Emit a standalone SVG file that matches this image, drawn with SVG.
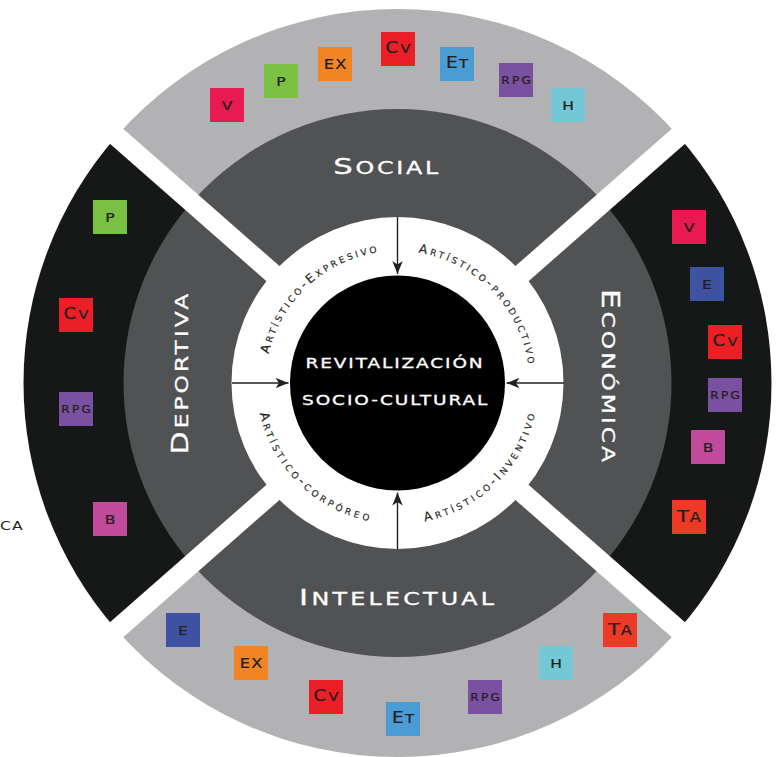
<svg xmlns="http://www.w3.org/2000/svg" xmlns:xlink="http://www.w3.org/1999/xlink" width="776" height="757" viewBox="0 0 776 757">
<defs>
<style>
.t{font-family:"DejaVu Sans","Liberation Sans",sans-serif}
.wt{fill:#fff;stroke:#fff;stroke-width:0.3}
.dk{fill:#231f20}
.ring{font-family:"DejaVu Sans","Liberation Sans",sans-serif;fill:#231f20;font-size:12.5px;font-variant:small-caps;letter-spacing:2.8px;stroke:#231f20;stroke-width:0.15}
.sq rect{width:34px;height:34px}
.sq text{font-family:"DejaVu Sans","Liberation Sans",sans-serif;fill:#231f20;stroke:#231f20;stroke-width:0.25;text-anchor:middle}
.cV{fill:#e91a52}.cP{fill:#7ac143}.cEX{fill:#f18523}.cCv{fill:#ec1e26}.cEt{fill:#4b9bd5}
.cR{fill:#7a50a0}.cH{fill:#72c9d5}.cE{fill:#3f51a1}.cB{fill:#c14a9b}.cT{fill:#ec3a27}
.arr{stroke:#231f20;stroke-width:1.4;fill:none;marker-end:url(#ah)}
</style>
<marker id="ah" viewBox="0 0 13 11" refX="13" refY="5.5" markerWidth="13" markerHeight="11" markerUnits="userSpaceOnUse" orient="auto">
<path d="M0,0.3 L13,5.5 L0,10.7 L3.5,5.5 Z" fill="#231f20"/>
</marker>
<path id="pUL" d="M265.63,377.24 A132,132 0 0,1 403.26,251.13"/>
<path id="pUR" d="M399.80,251.02 A132,132 0 0,1 529.48,385.30"/>
<path id="pLL" d="M256.52,385.46 A141,141 0 0,0 399.96,523.98"/>
<path id="pLR" d="M396.89,524.00 A141,141 0 0,0 538.50,383.61"/>
</defs>

<g id="background">
<path d="M397.5,383 L116.5,136.2 A374,374 0 0,1 678.5,136.2 Z" fill="#b2b2b4"/>
<path d="M397.5,383 L678.5,136.2 A374,374 0 0,1 678.5,629.8 Z" fill="#161817"/>
<path d="M397.5,383 L678.5,629.8 A374,374 0 0,1 116.5,629.8 Z" fill="#b2b2b4"/>
<path d="M397.5,383 L116.5,629.8 A374,374 0 0,1 116.5,136.2 Z" fill="#161817"/>
<circle cx="397.5" cy="383" r="274" fill="#515254"/>
<g stroke="#fff" stroke-width="20">
<line x1="112" y1="132.2" x2="683" y2="633.8"/>
<line x1="683" y1="132.2" x2="112" y2="633.8"/>
</g>
<circle cx="397.5" cy="383" r="166" fill="#fff"/>
</g>

<g id="connectors">
<line class="arr" x1="397.5" y1="217" x2="397.5" y2="274"/>
<line class="arr" x1="232" y1="383" x2="288.5" y2="383"/>
<line class="arr" x1="564" y1="383" x2="506.5" y2="383"/>
<line class="arr" x1="397.5" y1="549" x2="397.5" y2="492.5"/>
</g>

<g id="node-center">
<circle cx="397.5" cy="383" r="107.5" fill="#000"/>
<text class="t wt" font-size="13.7" letter-spacing="1.4" transform="translate(305.5,368.3) scale(1.35,1)">REVITALIZACIÓN</text>
<text class="t wt" font-size="13.7" letter-spacing="1.42" transform="translate(302,404.5) scale(1.35,1)">SOCIO-CULTURAL</text>
</g>

<g id="ring-labels">
<text id="lbl-expresivo" class="ring"><textPath xlink:href="#pUL" startOffset="50%" text-anchor="middle">Artístico-Expresivo</textPath></text>
<text id="lbl-productivo" class="ring"><textPath xlink:href="#pUR" startOffset="50%" text-anchor="middle">Artístico-productivo</textPath></text>
<text id="lbl-corporeo" class="ring" style="letter-spacing:3.3px"><textPath xlink:href="#pLL" startOffset="50%" text-anchor="middle">Artístico-corpóreo</textPath></text>
<text id="lbl-inventivo" class="ring" style="letter-spacing:3.2px"><textPath xlink:href="#pLR" startOffset="50%" text-anchor="middle">Artístico-Inventivo</textPath></text>
</g>

<g id="node-social">
<text class="t wt" letter-spacing="1.93" transform="translate(333.3,174) scale(1.4,1)"><tspan font-size="22">S</tspan><tspan font-size="17">OCIAL</tspan></text>
<g class="sq" transform="translate(210,88)"><rect class="cV"/><text font-size="13" transform="translate(17,21.5) scale(1.2,1)">V</text></g>
<g class="sq" transform="translate(264,64)"><rect class="cP"/><text font-size="13" transform="translate(17,21.5) scale(1.2,1)">P</text></g>
<g class="sq" transform="translate(318,47)"><rect class="cEX"/><text font-size="13.5" letter-spacing="1" transform="translate(17.6,21.5) scale(1.2,1)">EX</text></g>
<g class="sq" transform="translate(381,32)"><rect class="cCv"/><text letter-spacing="2" transform="translate(18.2,21) scale(1.2,1)"><tspan font-size="15">C</tspan><tspan font-size="12">V</tspan></text></g>
<g class="sq" transform="translate(440,47)"><rect class="cEt"/><text letter-spacing="1" transform="translate(17.6,21) scale(1.2,1)"><tspan font-size="15.5">E</tspan><tspan font-size="12.5">T</tspan></text></g>
<g class="sq" transform="translate(499,63)"><rect class="cR"/><text font-size="10" letter-spacing="2" transform="translate(18.2,21) scale(1.2,1)">RPG</text></g>
<g class="sq" transform="translate(551,88)"><rect class="cH"/><text font-size="13" transform="translate(17,21.5) scale(1.2,1)">H</text></g>
</g>

<g id="node-deportiva">
<text class="t wt" letter-spacing="2.33" transform="translate(188,454.4) rotate(-90) scale(1.3,1)"><tspan font-size="23">D</tspan><tspan font-size="18">EPORTIVA</tspan></text>
<g class="sq" transform="translate(93,200)"><rect class="cP"/><text font-size="13" transform="translate(17,21.5) scale(1.2,1)">P</text></g>
<g class="sq" transform="translate(59,298)"><rect class="cCv"/><text letter-spacing="2" transform="translate(18.2,21) scale(1.2,1)"><tspan font-size="15">C</tspan><tspan font-size="12">V</tspan></text></g>
<g class="sq" transform="translate(59,392)"><rect class="cR"/><text font-size="10" letter-spacing="2" transform="translate(18.2,21) scale(1.2,1)">RPG</text></g>
<g class="sq" transform="translate(93,502)"><rect class="cB"/><text font-size="13" transform="translate(17,21.5) scale(1.2,1)">B</text></g>
</g>

<g id="node-economica">
<text class="t wt" letter-spacing="2.25" transform="translate(601.7,288.9) rotate(90) scale(1.3,1)"><tspan font-size="24">E</tspan><tspan font-size="18">CONÓMICA</tspan></text>
<g class="sq" transform="translate(672,210)"><rect class="cV"/><text font-size="13" transform="translate(17,21.5) scale(1.2,1)">V</text></g>
<g class="sq" transform="translate(690,267)"><rect class="cE"/><text font-size="13" transform="translate(17,21.5) scale(1.2,1)">E</text></g>
<g class="sq" transform="translate(708,325)"><rect class="cCv"/><text letter-spacing="2" transform="translate(18.2,21) scale(1.2,1)"><tspan font-size="15">C</tspan><tspan font-size="12">V</tspan></text></g>
<g class="sq" transform="translate(708,378)"><rect class="cR"/><text font-size="10" letter-spacing="2" transform="translate(18.2,21) scale(1.2,1)">RPG</text></g>
<g class="sq" transform="translate(691,430)"><rect class="cB"/><text font-size="13" transform="translate(17,21.5) scale(1.2,1)">B</text></g>
<g class="sq" transform="translate(672,500)"><rect class="cT"/><text letter-spacing="0.5" transform="translate(17.3,22) scale(1.2,1)"><tspan font-size="16.5">T</tspan><tspan font-size="13.5">A</tspan></text></g>
</g>

<g id="node-intelectual">
<text class="t wt" letter-spacing="2.3" transform="translate(299.1,605) scale(1.4,1)"><tspan font-size="22">I</tspan><tspan font-size="17">NTELECTUAL</tspan></text>
<g class="sq" transform="translate(166,613)"><rect class="cE"/><text font-size="13" transform="translate(17,21.5) scale(1.2,1)">E</text></g>
<g class="sq" transform="translate(234,646)"><rect class="cEX"/><text font-size="13.5" letter-spacing="1" transform="translate(17.6,21.5) scale(1.2,1)">EX</text></g>
<g class="sq" transform="translate(309,680)"><rect class="cCv"/><text letter-spacing="2" transform="translate(18.2,21) scale(1.2,1)"><tspan font-size="15">C</tspan><tspan font-size="12">V</tspan></text></g>
<g class="sq" transform="translate(386,702)"><rect class="cEt"/><text letter-spacing="1" transform="translate(17.6,21) scale(1.2,1)"><tspan font-size="15.5">E</tspan><tspan font-size="12.5">T</tspan></text></g>
<g class="sq" transform="translate(468,680)"><rect class="cR"/><text font-size="10" letter-spacing="2" transform="translate(18.2,21) scale(1.2,1)">RPG</text></g>
<g class="sq" transform="translate(539,646)"><rect class="cH"/><text font-size="13" transform="translate(17,21.5) scale(1.2,1)">H</text></g>
<g class="sq" transform="translate(603,613)"><rect class="cT"/><text letter-spacing="0.5" transform="translate(17.3,22) scale(1.2,1)"><tspan font-size="16.5">T</tspan><tspan font-size="13.5">A</tspan></text></g>
</g>

<g id="fragment-left">
<text class="t dk" font-size="13" letter-spacing="1" transform="translate(0,529.5) scale(1.2,1)">CA</text>
</g>
</svg>
